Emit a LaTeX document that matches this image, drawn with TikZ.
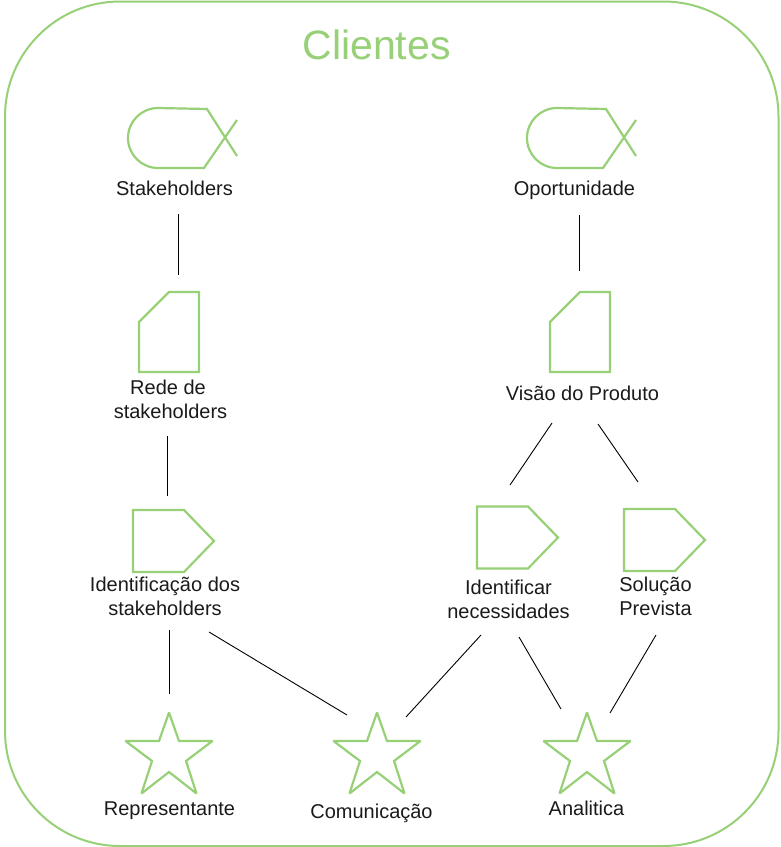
\documentclass[tikz,border=0pt]{standalone}
\usepackage{fontspec}
\setmainfont{Liberation Sans}
\definecolor{grn}{HTML}{97D077}
\definecolor{ink}{HTML}{1A1A1A}
\tikzset{
  shapeline/.style={draw=grn,line width=2.2pt,line join=miter},
  link/.style={draw=black,line width=0.9pt},
  lbl/.style={text=ink,font=\fontsize{20}{24}\selectfont,align=center,inner sep=0pt},
  titlelbl/.style={text=grn,font=\fontsize{41}{46}\selectfont,inner sep=0pt},
  pics/fish/.style={code={
    \draw[shapeline] (237,156) -- (207,109) -- (158,108) arc[start angle=270,end angle=90,radius=30] -- (204,168) -- (237,120);
  }},
  pics/card/.style={code={
    \draw[shapeline] (0,30) -- (30,0) -- (60,0) -- (60,80) -- (0,80) -- cycle;
  }},
  pics/penta/.style={code={
    \draw[shapeline] (0,0) -- (51,0) -- (81,31) -- (51,62) -- (0,62) -- cycle;
  }},
  pics/fivestar/.style={code={
    \draw[shapeline,miter limit=2] (0,1.5) -- (10,30) -- (43.5,30) -- (17,50) -- (27.5,82.5) -- (0,61) -- (-27.5,82.5) -- (-17,50) -- (-43.5,30) -- (-10,30) -- cycle;
  }},
}
\begin{document}
\begin{tikzpicture}[x=1pt,y=-1pt]
\useasboundingbox (0,0) rectangle (780,847);
\node[draw=grn,line width=2pt,rounded corners=115pt,minimum width=773.5pt,minimum height=844.5pt,inner sep=0pt,outer sep=0pt,anchor=north west] (frame) at (5,1.5) {};
\node[titlelbl] (title) at (376.5,45) {Clientes};

% shapes
\pic at (0,0) {fish};
\pic at (399,0) {fish};
\pic at (139,292) {card};
\pic at (550,292) {card};
\pic at (133,510) {penta};
\pic at (477,506.5) {penta};
\pic at (624,509) {penta};
\pic at (169,711) {fivestar};
\pic at (377,711) {fivestar};
\pic at (587,711) {fivestar};

% labels
\node[lbl] (stakeholders) at (174.5,188) {Stakeholders};
\node[lbl] (oportunidade) at (574.5,190) {Oportunidade};
\node[lbl] (rede) at (170.5,399.5) {Rede de\hspace*{5pt}\\stakeholders};
\node[lbl] (visao) at (582.5,393) {Visão do Produto};
\node[lbl] (identificacao) at (165,596.5) {Identificação dos\\stakeholders};
\node[lbl] (identificar) at (508.5,599.5) {Identificar\\necessidades};
\node[lbl] (solucao) at (655.5,596.5) {Solução\\Prevista};
\node[lbl] (representante) at (169.5,811) {Representante};
\node[lbl] (comunicacao) at (371.5,813) {Comunicação};
\node[lbl] (analitica) at (586.5,808) {Analitica};

% connector ends
\coordinate (a1) at (178,214); \coordinate (a2) at (178,275);
\coordinate (b1) at (167,436); \coordinate (b2) at (167,496);
\coordinate (c1) at (169,630); \coordinate (c2) at (169,694);
\coordinate (d1) at (209,632); \coordinate (d2) at (347,715);
\coordinate (e1) at (481,635); \coordinate (e2) at (406,717);
\coordinate (f1) at (519,637); \coordinate (f2) at (561,709);
\coordinate (g1) at (656,635); \coordinate (g2) at (610,713);
\coordinate (h1) at (579,215); \coordinate (h2) at (579,271);
\coordinate (i1) at (552,423); \coordinate (i2) at (510,485);
\coordinate (j1) at (598,424); \coordinate (j2) at (638,482);
\foreach \s/\t in {a1/a2,b1/b2,c1/c2,d1/d2,e1/e2,f1/f2,g1/g2,h1/h2,i1/i2,j1/j2}
  \draw[link] (\s) -- (\t);
\end{tikzpicture}
\end{document}
